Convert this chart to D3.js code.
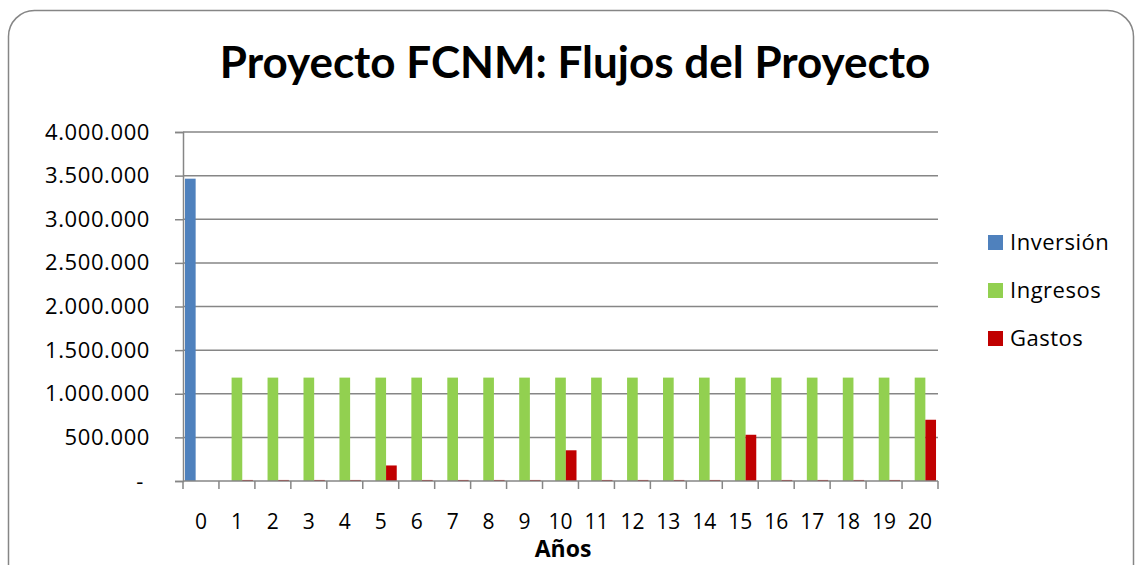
<!DOCTYPE html>
<html>
<head>
<meta charset="utf-8">
<script src="https://cdn.jsdelivr.net/npm/d3@7"></script>
<style>
  body { margin: 0; background: #fff; }
  text { font-family: "Open Sans", Lato, sans-serif; fill: #000; }
  .title { font-family: Lato, "Open Sans", sans-serif; }
</style>
</head>
<body>
<div id="chart"></div>
<script>
// data
var years = ["0","1","2","3","4","5","6","7","8","9","10","11","12","13","14","15","16","17","18","19","20"];
var seriesNames = ["Inversión", "Ingresos", "Gastos"];
var inversion = [3465000,0,0,0,0,0,0,0,0,0,0,0,0,0,0,0,0,0,0,0,0];
var ingresos = [0,1185000,1185000,1185000,1185000,1185000,1185000,1185000,1185000,1185000,1185000,1185000,1185000,1185000,1185000,1185000,1185000,1185000,1185000,1185000,1185000];
var gastos = [0,12000,12000,12000,12000,178000,12000,12000,12000,12000,352000,12000,12000,12000,12000,530000,12000,12000,12000,12000,702000];
var yTicks = [0,500000,1000000,1500000,2000000,2500000,3000000,3500000,4000000];
var colors = ["#4F81BD", "#92D050", "#C00000"];

var w = 1141;
var h = 565;
var plotLeft = 183, plotRight = 938, plotTop = 132, plotBottom = 481;

var svg = d3.select("#chart")
  .append("svg")
  .attr("width", w)
  .attr("height", h);

// outer frame with rounded corners
svg.append("rect")
  .attr("x", 8.5)
  .attr("y", 10.5)
  .attr("width", 1125)
  .attr("height", 600)
  .attr("rx", 26)
  .attr("fill", "#fff")
  .attr("stroke", "#868686")
  .attr("stroke-width", 1.5);

// title
svg.append("text")
  .attr("class", "title")
  .attr("x", 575)
  .attr("y", 78)
  .attr("text-anchor", "middle")
  .attr("font-size", "44px")
  .attr("font-weight", "bold")
  .text("Proyecto FCNM: Flujos del Proyecto");

var x0 = d3.scaleBand()
  .domain(years)
  .range([plotLeft, plotRight])
  .paddingInner(0.11)
  .paddingOuter(0.055);

var x1 = d3.scaleBand()
  .domain(seriesNames)
  .range([0, x0.bandwidth()]);

var y = d3.scaleLinear()
  .domain([0, 4000000])
  .range([plotBottom, plotTop]);

// gridlines
svg.append("g")
  .selectAll("line")
  .data(yTicks.slice(1))
  .enter().append("line")
  .attr("x1", plotLeft)
  .attr("x2", plotRight)
  .attr("y1", function(d) { return y(d); })
  .attr("y2", function(d) { return y(d); })
  .attr("stroke", "#868686")
  .attr("stroke-width", 1.5);

// y axis
var yAxis = d3.axisLeft(y)
  .tickValues(yTicks)
  .tickSize(8)
  .tickPadding(25)
  .tickFormat(function(d) {
    if (d === 0) return "-";
    return d3.format(",")(d).replace(/,/g, ".");
  });

var gy = svg.append("g")
  .attr("transform", "translate(" + plotLeft + ",0)")
  .call(yAxis);
gy.select(".domain").attr("stroke", "#868686").attr("stroke-width", 1.5);
gy.selectAll(".tick line").attr("stroke", "#868686").attr("stroke-width", 1.5);
gy.selectAll(".tick text")
  .attr("font-size", "22px")
  .attr("letter-spacing", "0.6px")
  .attr("font-family", "'Open Sans', Lato, sans-serif")
  .attr("fill", "#000");
gy.select(".tick text").attr("dx", -6);

// bars
var table = years.map(function(yr, i) {
  return { year: yr, values: [inversion[i], ingresos[i], gastos[i]] };
});

var groups = svg.append("g")
  .selectAll("g")
  .data(table)
  .enter().append("g")
  .attr("transform", function(d) { return "translate(" + x0(d.year) + ",0)"; });

groups.selectAll("rect")
  .data(function(d) {
    return d.values.map(function(v, k) { return { name: seriesNames[k], value: v, k: k }; });
  })
  .enter().append("rect")
  .attr("x", function(d) { return x1(d.name); })
  .attr("y", function(d) { return y(d.value); })
  .attr("width", x1.bandwidth())
  .attr("height", function(d) { return y(0) - y(d.value); })
  .attr("fill", function(d) { return colors[d.k]; });

// x axis line and ticks at category boundaries
svg.append("line")
  .attr("x1", plotLeft)
  .attr("x2", plotRight)
  .attr("y1", plotBottom)
  .attr("y2", plotBottom)
  .attr("stroke", "#868686")
  .attr("stroke-width", 1.5);

var step = x0.step();
svg.append("g")
  .selectAll("line")
  .data(d3.range(years.length + 1))
  .enter().append("line")
  .attr("x1", function(i) { return plotLeft + i * step; })
  .attr("x2", function(i) { return plotLeft + i * step; })
  .attr("y1", plotBottom)
  .attr("y2", plotBottom + 8)
  .attr("stroke", "#868686")
  .attr("stroke-width", 1.5);

svg.append("g")
  .selectAll("text")
  .data(years)
  .enter().append("text")
  .attr("x", function(d) { return x0(d) + x0.bandwidth() / 2; })
  .attr("y", 529)
  .attr("text-anchor", "middle")
  .attr("font-size", "21px")
  .text(function(d) { return d; });

// x axis title
svg.append("text")
  .attr("x", 563)
  .attr("y", 557)
  .attr("text-anchor", "middle")
  .attr("font-size", "23px")
  .attr("font-weight", "bold")
  .text("Años");

// legend
var legend = svg.append("g")
  .selectAll("g")
  .data(seriesNames)
  .enter().append("g")
  .attr("transform", function(d, i) { return "translate(988," + (235 + i * 48) + ")"; });

legend.append("rect")
  .attr("width", 15)
  .attr("height", 15)
  .attr("fill", function(d, i) { return colors[i]; });

legend.append("text")
  .attr("x", 22)
  .attr("y", 15)
  .attr("font-size", "22px")
  .attr("letter-spacing", "0.5px")
  .text(function(d) { return d; });
</script>
</body>
</html>
